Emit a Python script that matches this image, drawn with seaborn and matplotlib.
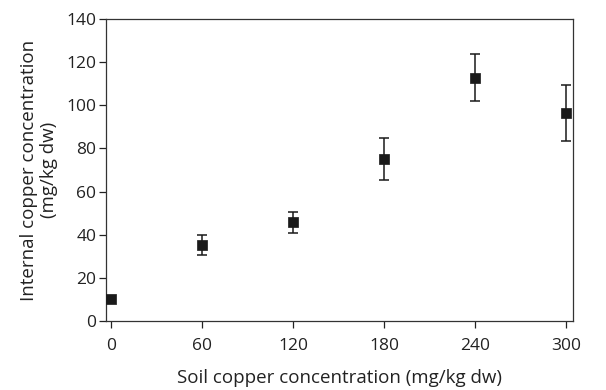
import matplotlib
matplotlib.use("Agg")
import matplotlib.pyplot as plt
import seaborn as sns
import pandas as pd

sns.set_theme(style="ticks")
plt.rcParams["font.family"] = ["Open Sans", "DejaVu Sans"]

soil_cu = [0, 60, 120, 180, 240, 300]
internal_cu = [10.2, 35.4, 45.7, 75.0, 112.8, 96.3]
internal_err = [0.8, 4.6, 4.8, 9.8, 11.0, 13.0]
x_ticks = [0, 60, 120, 180, 240, 300]
y_ticks = [0, 20, 40, 60, 80, 100, 120, 140]

df = pd.DataFrame({"soil": soil_cu, "internal": internal_cu, "err": internal_err})

fig = plt.figure(figsize=(6.06, 3.90), dpi=100)
ax = fig.add_axes([0.175, 0.177, 0.7705, 0.774])

ink = "#1a1a1a"
text_col = "#222222"
ax.errorbar(df["soil"], df["internal"], yerr=df["err"], fmt="none",
            ecolor=ink, elinewidth=1.1, capsize=3.5, capthick=1.1, zorder=2)
sns.scatterplot(data=df, x="soil", y="internal", marker="s", s=50,
                color=ink, edgecolor=ink, linewidth=0.5, ax=ax, zorder=3)

ax.set_xlim(-3.3, 304.6)
ax.set_ylim(0, 140)
ax.set_xticks(x_ticks)
ax.set_yticks(y_ticks)
ax.tick_params(axis="both", labelsize=12.5, colors=text_col, length=5, width=0.9,
               direction="out")
ax.tick_params(axis="x", pad=7)
ax.tick_params(axis="y", pad=2)
for sp in ax.spines.values():
    sp.set_visible(True)
    sp.set_color("#333333")
    sp.set_linewidth(0.9)

ax.set_xlabel("Soil copper concentration (mg/kg dw)", fontsize=13.5, color=text_col, labelpad=11)
ax.set_ylabel("Internal copper concentration\n(mg/kg dw)", fontsize=13.5, color=text_col,
              labelpad=6, linespacing=1.15)

fig.savefig("out.png", dpi=100)
